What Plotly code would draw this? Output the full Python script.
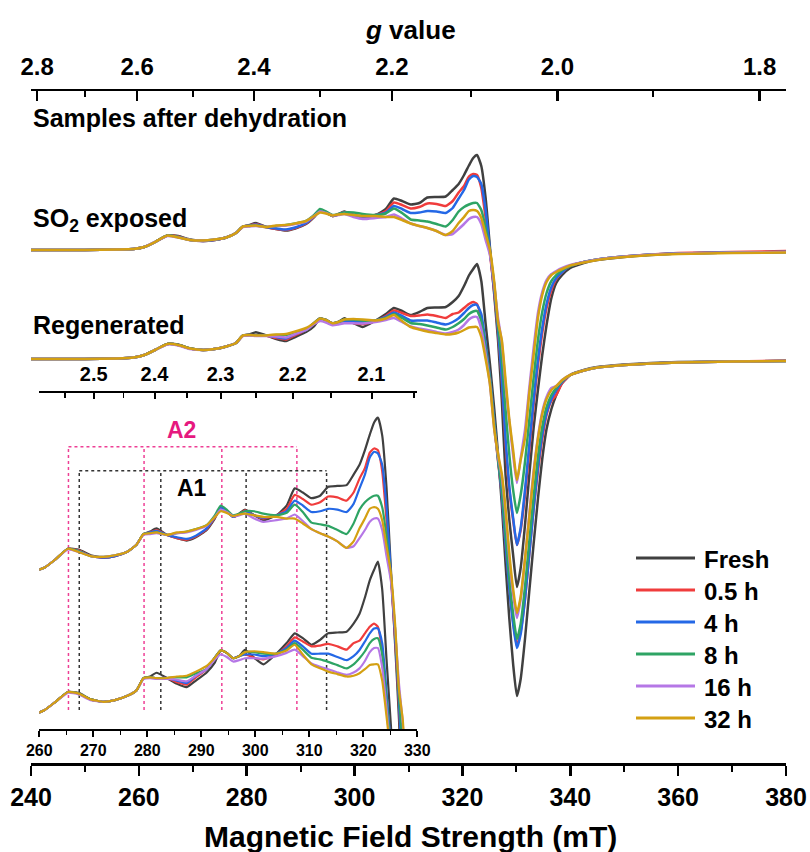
import plotly.graph_objects as go

# ---------------- data ----------------
FIELD = [240, 250, 256, 259, 261, 263, 265.3, 267.3, 269.5, 271.9, 274, 276.2, 278, 279.3, 280.5,
         281.7, 283.6, 285.5, 287.3, 289, 291, 292.5, 293.6, 294.7, 295.9, 297, 298.1, 299.8, 301.5,
         303.9, 305.8, 307.3, 308.8, 310.4, 312, 313.5, 315.2, 316.9, 318.2, 319.3, 320.3, 321.2, 322,
         322.7, 323.5, 324.3, 325.1, 325.9, 326.6, 327.3, 328, 328.7, 329.4, 330.1, 330.8, 331.6, 332.4,
         333.2, 334, 334.8, 335.6, 336.5, 337.4, 338.5, 340, 342.5, 345, 350, 355, 360, 370, 380]

SERIES = ["Fresh", "0.5 h", "4 h", "8 h", "16 h", "32 h"]
COLORS = ["#404040", "#f03c3c", "#2468e6", "#2ea464", "#b577e6", "#d4a012"]

# SO2 exposed samples (intensity, a.u.)
SO2_FRESH = [0, 0, 0.5, 1, 3, 8, 14.5, 14, 10.5, 9, 10, 12.5, 17, 23.5, 25, 27, 23, 21, 19.5, 21.5, 26, 33,
             39.5, 37.5, 34, 36, 38.5, 35, 32, 35, 41, 51.5, 49, 45.5, 47, 52.5, 53, 53.5, 60, 66, 75, 84.5,
             92, 95, 84, 52, 3, -45, -90, -150, -225, -270, -305, -337, -318, -275, -225, -178, -140, -105,
             -75, -48, -33, -25, -18, -13, -10, -7, -5, -3.5, -2.5, -2]
SO2_05H = [0, 0, 0.5, 1, 3, 8, 14.5, 13.5, 10, 9, 10, 12.5, 17, 23.5, 24.5, 26, 23, 21, 20, 22, 26.5, 33.5,
           39.5, 37.5, 34, 35.5, 38, 35, 33, 35, 39, 47.5, 45, 41.5, 43, 46.5, 46, 44, 49, 57.5, 64, 73.5,
           76, 75, 62, 32, -3, -42, -82, -130, -195, -240, -270, -295, -280, -245, -200, -155, -115, -83,
           -58, -40, -29, -22, -16, -12, -9.5, -6.5, -4.5, -3, -2, -1]
SO2_4H = [0, 0, 0.5, 1, 3, 8, 14.5, 13, 10, 9, 10, 12.5, 17, 23.5, 24.5, 25.5, 23, 21.5, 20.5, 22.5, 27, 34,
          40, 37.5, 34, 35.5, 37.5, 35, 33.5, 35, 37.5, 44, 41, 37, 37.5, 39, 38.5, 37, 42, 51.5, 60, 70.5,
          74, 73, 66, 40, 0, -40, -80, -128, -190, -237, -268, -295, -278, -240, -195, -150, -110, -78,
          -54, -37, -28, -22, -16, -12, -9.5, -6.5, -4.5, -3.5, -2.5, -2]
SO2_8H = [0, 0, 0.5, 1, 3, 8, 14.5, 13, 10, 9.5, 10.5, 12.5, 17, 23.5, 24, 24.5, 23, 24, 25, 26.5, 29, 35,
          41, 38.5, 35, 36, 37.5, 37.5, 36, 35, 36.5, 41.5, 37, 30.5, 29.5, 28.5, 26, 23.5, 30, 38.5, 43,
          45.5, 47, 47, 40, 22, -2, -35, -75, -110, -160, -205, -240, -263, -245, -212, -170, -128, -90,
          -62, -43, -31, -25, -20, -16, -12, -9.5, -6.5, -4.5, -3.5, -2.5, -2]
SO2_16H = [0, 0, 0.5, 1, 3, 8, 14, 12.5, 10, 9.5, 10.5, 12.5, 17, 23, 23.5, 24, 23, 24, 24.5, 26, 28.5, 34,
           38.5, 37, 34.5, 35, 36, 33, 31, 32, 33, 35.5, 31.5, 26.5, 24, 22, 19, 15, 16, 21, 26, 31, 33,
           33, 26, 10, -5, -35, -68, -92, -135, -172, -205, -233, -208, -180, -138, -98, -63, -42, -30,
           -24, -21, -18, -15, -12, -9.5, -6.5, -4.5, -3.5, -2.5, -2]
SO2_32H = [0, 0, 0.5, 1, 3, 8, 14.5, 12.5, 10, 9.5, 10.5, 12.5, 17, 23.5, 24, 24.5, 23, 24.5, 25, 26.5, 29,
           34, 37.5, 36.5, 34.5, 35.5, 36, 35, 34, 34, 33, 33, 30, 26.5, 24, 22, 19, 15, 19, 27, 33, 39,
           40, 39, 32, 16, 0, -32, -72, -90, -130, -170, -200, -230, -210, -188, -143, -105, -68, -45,
           -32, -25, -22, -19, -15.5, -12.5, -10, -7, -5, -4, -3, -2.5]

# Regenerated samples (intensity, a.u.)
REG_FRESH = [0, 0, 0.5, 1.5, 4, 9, 15, 14.5, 10.5, 9, 10, 12.5, 16, 23.5, 24.5, 26.8, 23.6, 20, 18, 22, 27,
             33, 40.5, 39, 35.7, 37, 40.8, 36, 32, 38.5, 45, 51, 48, 44, 47, 51, 51.5, 52, 57, 63, 73,
             83.5, 90, 95, 78, 35, -5, -50, -95, -145, -205, -260, -305, -337, -320, -280, -232, -185,
             -140, -100, -70, -50, -36, -24, -16, -11, -8, -5.5, -4, -3, -2.5, -2]
REG_05H = [0, 0, 0.5, 1.5, 4, 9, 15, 14, 10.5, 9, 10, 12.5, 16, 23.5, 24, 23.5, 23.6, 21, 19.5, 24, 29, 36,
           40.5, 39, 35.7, 37, 38, 36, 35, 38, 43, 48.5, 46, 43, 43.5, 44.5, 43, 41, 45, 46.5, 51, 55,
           57, 55, 40, 12, -20, -65, -102, -135, -185, -228, -262, -287, -272, -240, -195, -150, -112,
           -80, -56, -42, -36, -24, -16, -11.5, -8.5, -6, -4.5, -3.5, -2.5, -1.5]
REG_4H = [0, 0, 0.5, 1.5, 4, 9, 15, 14, 10.5, 9, 10, 12.5, 16, 23.5, 24, 23.5, 23.6, 22, 20.5, 25, 29, 36,
          40.5, 39, 35.7, 37, 38, 38, 37, 38.5, 42, 46.5, 43, 38.5, 38.5, 38.5, 36.5, 34.5, 37, 40.8, 46,
          51, 54, 54, 45, 15, -18, -62, -100, -135, -185, -230, -265, -289, -275, -240, -195, -150, -108,
          -76, -54, -40, -31, -23, -16, -11.5, -8.5, -6, -4.5, -3.5, -2.5, -2]
REG_8H = [0, 0, 0.5, 1.5, 4, 9, 15, 14, 10.5, 9, 10, 12.5, 16, 23.5, 24, 23.5, 23.6, 24, 24, 26.5, 29, 36,
          40.5, 39, 35.7, 37, 39.5, 39.5, 38.5, 38.5, 41, 45, 41, 36, 35, 33.5, 31.5, 29.5, 32, 35.7, 40,
          45, 47.5, 48, 38, 10, -20, -65, -100, -130, -175, -220, -255, -280, -265, -228, -182, -138, -98,
          -68, -48, -36, -29, -22, -16, -11.5, -8.5, -6, -4.5, -3.5, -2.5, -2]
REG_16H = [0, 0, 0.5, 1.5, 4, 9, 14.5, 13.5, 10, 9, 10, 12.5, 16, 23, 23.5, 23, 23, 22.5, 21.5, 25, 29, 35,
           38, 36.5, 33.7, 34.5, 35.7, 35.7, 35.5, 37, 39, 41, 37, 32.5, 30.5, 29, 27, 25.5, 27, 29.5, 34,
           39.5, 42, 42, 30, 5, -25, -70, -97, -118, -155, -200, -235, -259, -240, -200, -155, -112, -78,
           -53, -38, -29, -27, -21, -16, -11.5, -8.5, -6, -4.5, -3.5, -2.5, -2]
REG_32H = [0, 0, 0.5, 1.5, 4, 9, 15, 14, 10.5, 9, 10, 12.5, 16, 23.5, 24, 23.5, 23.6, 24.5, 25, 27.5, 31, 36,
           40.5, 39, 35.7, 37, 39.5, 40, 39.5, 38.5, 40.5, 44, 38, 32, 29.5, 27.5, 26, 24.5, 25, 26.5, 29,
           31.5, 32, 32, 22, 0, -25, -70, -95, -115, -150, -195, -230, -254, -238, -200, -158, -115, -80,
           -55, -40, -31, -27, -21, -16, -11.5, -8.5, -6, -4.5, -3.5, -2.5, -2]

SO2_DATA = [SO2_FRESH, SO2_05H, SO2_4H, SO2_8H, SO2_16H, SO2_32H]
REG_DATA = [REG_FRESH, REG_05H, REG_4H, REG_8H, REG_16H, REG_32H]

FIELD_TICKS = [240, 260, 280, 300, 320, 340, 360, 380]
FIELD_MINOR = [250, 270, 290, 310, 330, 350, 370]
INSET_TICKS = [260, 270, 280, 290, 300, 310, 320, 330]
INSET_MINOR = [265, 275, 285, 295, 305, 315, 325]
G_MAJOR = [2.8, 2.6, 2.4, 2.2, 2.0, 1.8]
G_MINOR = [2.7, 2.5, 2.3, 2.1, 1.9]
INSET_G_MAJOR = [2.5, 2.4, 2.3, 2.2, 2.1]
INSET_G_MINOR = [2.55, 2.45, 2.35, 2.25, 2.15, 2.05]
G_FACTOR = 675.2          # g * B (mT) for this microwave frequency
A1_FIELDS = [267.4, 282.5, 298.3, 313.2]
A2_FIELDS = [265.4, 279.4, 293.8, 307.7]

# ---------------- layout constants ----------------
W, H = 810, 852
L, R, T, B = 31, 24, 91, 89
PW, PH = W - L - R, H - T - B
MAIN_SO2_OFF, MAIN_REG_OFF = 513, 404
INSET_PX_PER_UNIT = 1.63
INSET_TOP_PX, INSET_BOT_PX = 393, 729
INSET_LEFT_PX, INSET_RIGHT_PX = 39.3, 417.3
INSET_RANGE = (INSET_BOT_PX - INSET_TOP_PX) / INSET_PX_PER_UNIT
INSET_SO2_OFF, INSET_REG_OFF = 96.1, 7.7
FONT = "Liberation Sans, Arial, sans-serif"


def px_x(px):
    return (px - L) / PW


def px_y(py):
    return (H - B - py) / PH


def shift(vals, off):
    return [v + off for v in vals]


fig = go.Figure()

# main spectra
for data, off in ((SO2_DATA, MAIN_SO2_OFF), (REG_DATA, MAIN_REG_OFF)):
    for name, col, vals in zip(SERIES, COLORS, data):
        fig.add_trace(go.Scatter(x=FIELD, y=shift(vals, off), mode="lines", name=name,
                                 line=dict(color=col, width=2.5, shape="spline", smoothing=0.5),
                                 showlegend=False, hoverinfo="skip", xaxis="x", yaxis="y"))
# inset spectra
for data, off in ((SO2_DATA, INSET_SO2_OFF), (REG_DATA, INSET_REG_OFF)):
    for name, col, vals in zip(SERIES, COLORS, data):
        fig.add_trace(go.Scatter(x=FIELD, y=shift(vals, off), mode="lines", name=name,
                                 line=dict(color=col, width=2.2, shape="spline", smoothing=0.5),
                                 showlegend=False, hoverinfo="skip", xaxis="x3", yaxis="y3"))
# anchors for the g-value axes
fig.add_trace(go.Scatter(x=[300], y=[-1000], mode="markers", marker=dict(opacity=0),
                         showlegend=False, hoverinfo="skip", xaxis="x2", yaxis="y"))
fig.add_trace(go.Scatter(x=[300], y=[-1000], mode="markers", marker=dict(opacity=0),
                         showlegend=False, hoverinfo="skip", xaxis="x4", yaxis="y3"))

g_pos = [G_FACTOR / g for g in G_MAJOR]
g_minor_pos = [G_FACTOR / g for g in G_MINOR]
ig_pos = [G_FACTOR / g for g in INSET_G_MAJOR]
ig_minor_pos = [G_FACTOR / g for g in INSET_G_MINOR]

axis_font = dict(family=FONT, size=25, color="black", weight="bold")

fig.update_layout(
    width=W, height=H, margin=dict(l=L, r=R, t=T, b=B, autoexpand=False),
    paper_bgcolor="white", plot_bgcolor="rgba(0,0,0,0)",
    hovermode=False, showlegend=False,
    xaxis=dict(domain=[0, 1], range=[240, 380], anchor="y", side="bottom", automargin=False,
               showline=True, linecolor="black", linewidth=2.5, showgrid=False, zeroline=False,
               ticks="outside", ticklen=10, tickwidth=2.5, tickcolor="black",
               tickmode="array", tickvals=FIELD_TICKS, ticktext=[str(v) for v in FIELD_TICKS],
               tickfont=axis_font,
               minor=dict(tickmode="array", tickvals=FIELD_MINOR, ticks="outside", ticklen=6,
                          tickwidth=2, tickcolor="black", showgrid=False)),
    xaxis2=dict(range=[240, 380], overlaying="x", anchor="y", side="top", automargin=False,
                showline=True, linecolor="black", linewidth=2.5, showgrid=False, zeroline=False,
                ticks="inside", ticklen=10, tickwidth=2.5, tickcolor="black",
                tickmode="array", tickvals=g_pos, ticktext=[f"{g:.1f}" for g in G_MAJOR],
                tickfont=dict(family=FONT, size=24, color="black", weight="bold"),
                ticklabelstandoff=4,
                minor=dict(tickmode="array", tickvals=g_minor_pos, ticks="inside", ticklen=6,
                           tickwidth=2, tickcolor="black", showgrid=False)),
    yaxis=dict(domain=[0, 1], range=[0, PH], visible=False, fixedrange=True, automargin=False),
    xaxis3=dict(domain=[px_x(INSET_LEFT_PX), px_x(INSET_RIGHT_PX)], range=[260, 330], anchor="y3",
                side="bottom", automargin=False, showline=True, linecolor="black", linewidth=2,
                showgrid=False, zeroline=False, ticks="outside", ticklen=6, tickwidth=2,
                tickcolor="black", tickmode="array", tickvals=INSET_TICKS,
                ticktext=[str(v) for v in INSET_TICKS],
                tickfont=dict(family=FONT, size=16, color="black", weight="bold"),
                ticklabelstandoff=0,
                minor=dict(tickmode="array", tickvals=INSET_MINOR, ticks="outside", ticklen=4,
                           tickwidth=1.5, tickcolor="black", showgrid=False)),
    xaxis4=dict(range=[260, 330], overlaying="x3", anchor="y3", side="top", automargin=False,
                showline=True, linecolor="black", linewidth=2, showgrid=False, zeroline=False,
                ticks="inside", ticklen=6, tickwidth=2, tickcolor="black",
                tickmode="array", tickvals=ig_pos, ticktext=[f"{g:.1f}" for g in INSET_G_MAJOR],
                tickfont=dict(family=FONT, size=20, color="black", weight="bold"),
                ticklabelstandoff=2,
                minor=dict(tickmode="array", tickvals=ig_minor_pos, ticks="inside", ticklen=5,
                           tickwidth=1.5, tickcolor="black", showgrid=False)),
    yaxis3=dict(domain=[px_y(INSET_BOT_PX), px_y(INSET_TOP_PX)], range=[0, INSET_RANGE],
                anchor="x3", visible=False, fixedrange=True, automargin=False),
)

# dotted guide lines in the inset
A2_COLOR = "#ee3f95"
A1_COLOR = "#333333"
A2_TOP, A1_TOP, GUIDE_BOTTOM = 173.2, 158.5, 11.7
shapes = []
for xs, top, col in ((A2_FIELDS, A2_TOP, A2_COLOR), (A1_FIELDS, A1_TOP, A1_COLOR)):
    for xv in xs:
        shapes.append(dict(type="line", xref="x3", yref="y3", x0=xv, x1=xv, y0=GUIDE_BOTTOM, y1=top,
                           line=dict(color=col, width=1.5, dash="dot"), layer="below"))
    shapes.append(dict(type="line", xref="x3", yref="y3", x0=xs[0], x1=xs[-1], y0=top, y1=top,
                       line=dict(color=col, width=1.5, dash="dot"), layer="below"))

# custom legend
LEG_ROWS = [558, 590, 622, 654, 686, 718]
annotations = []
for name, col, ry in zip(SERIES, COLORS, LEG_ROWS):
    shapes.append(dict(type="line", xref="paper", yref="paper", x0=px_x(636), x1=px_x(695),
                       y0=px_y(ry), y1=px_y(ry), line=dict(color=col, width=3)))
    annotations.append(dict(xref="paper", yref="paper", x=px_x(702), y=px_y(ry + 1), text=name,
                            showarrow=False, xanchor="left", yanchor="middle",
                            font=dict(family=FONT, size=24, color="black", weight="bold")))

text_font = dict(family=FONT, size=25, color="black", weight="bold")
annotations += [
    dict(xref="paper", yref="paper", x=px_x(410), y=px_y(30), text="<i>g</i> value",
         showarrow=False, xanchor="center", yanchor="middle",
         font=dict(family=FONT, size=26, color="black", weight="bold")),
    dict(xref="paper", yref="paper", x=px_x(410), y=px_y(836), text="Magnetic Field Strength (mT)",
         showarrow=False, xanchor="center", yanchor="middle",
         font=dict(family=FONT, size=30, color="black", weight="bold")),
    dict(xref="paper", yref="paper", x=px_x(31), y=px_y(118), text="Samples after dehydration",
         showarrow=False, xanchor="left", yanchor="middle",
         font=dict(family=FONT, size=25, color="black", weight="bold")),
    dict(xref="paper", yref="paper", x=px_x(31), y=px_y(220), text="SO<sub>2</sub> exposed",
         showarrow=False, xanchor="left", yanchor="middle", font=text_font),
    dict(xref="paper", yref="paper", x=px_x(31), y=px_y(325), text="Regenerated",
         showarrow=False, xanchor="left", yanchor="middle", font=text_font),
    dict(xref="x3", yref="y3", x=286.4, y=183.4, text="A2", showarrow=False,
         xanchor="center", yanchor="middle",
         font=dict(family=FONT, size=23, color="#e6197f", weight="bold")),
    dict(xref="x3", yref="y3", x=288.3, y=147.9, text="A1", showarrow=False,
         xanchor="center", yanchor="middle",
         font=dict(family=FONT, size=23, color="black", weight="bold")),
]

fig.update_layout(shapes=shapes, annotations=annotations)
fig.write_html("out.html", config={"displayModeBar": False, "staticPlot": True},
               post_script="document.body.style.margin='0';document.body.style.overflow='hidden';")
